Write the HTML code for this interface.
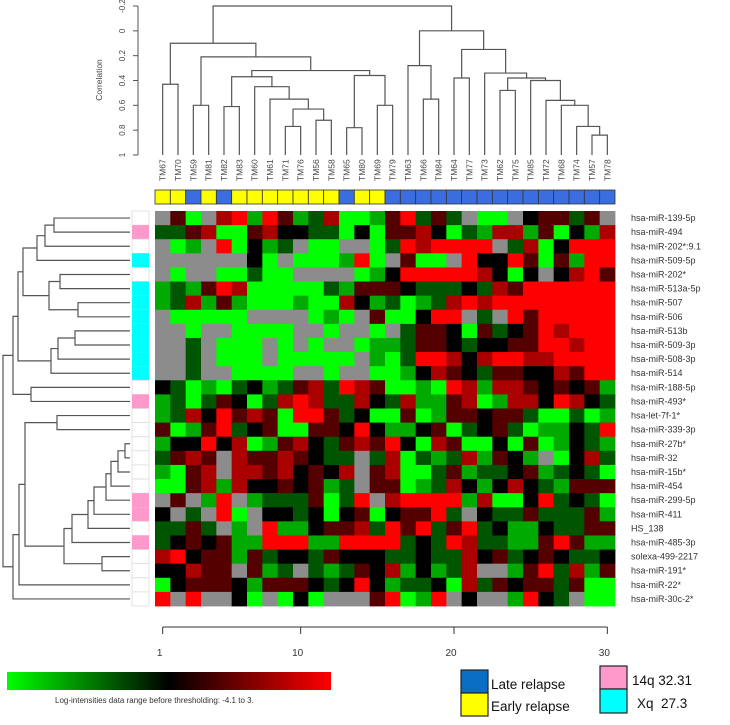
<!DOCTYPE html>
<html><head><meta charset="utf-8"><style>
html,body{margin:0;padding:0;background:#fff;}
svg{display:block;font-family:"Liberation Sans",sans-serif;}
</style></head><body>
<svg id="chart" width="730" height="725" viewBox="0 0 730 725"></svg>
<script>
const samples=["TM67","TM70","TM59","TM81","TM82","TM83","TM60","TM61","TM71","TM76","TM56","TM58","TM65","TM80","TM69","TM79","TM63","TM66","TM84","TM64","TM77","TM73","TM62","TM75","TM85","TM72","TM68","TM74","TM57","TM78"];
const relapse=["E","E","L","E","L","E","E","E","E","E","E","E","L","E","E","L","L","L","L","L","L","L","L","L","L","L","L","L","L","L"];
const genes=["hsa-miR-139-5p","hsa-miR-494","hsa-miR-202*:9.1","hsa-miR-509-5p","hsa-miR-202*","hsa-miR-513a-5p","hsa-miR-507","hsa-miR-506","hsa-miR-513b","hsa-miR-509-3p","hsa-miR-508-3p","hsa-miR-514","hsa-miR-188-5p","hsa-miR-493*","hsa-let-7f-1*","hsa-miR-339-3p","hsa-miR-27b*","hsa-miR-32","hsa-miR-15b*","hsa-miR-454","hsa-miR-299-5p","hsa-miR-411","HS_138","hsa-miR-485-3p","solexa-499-2217","hsa-miR-191*","hsa-miR-22*","hsa-miR-30c-2*"];
const chrom=["","14q","","Xq","","Xq","Xq","Xq","Xq","Xq","Xq","Xq","","14q","","","","","","","14q","14q","","14q","","","",""];
const N=null;
const values=[
[N,1,-3,N,2,3,-2,3,1,-2,-1,2,-3,-3,-2,1,3,-1,1,-1,N,-3,-3,N,0,1,1,-1,1,N],
[-1,-1,1,2,-3,-3,1,2,0,0,-1,-1,-3,0,-3,1,1,2,0,-3,-1,-2,2,2,-2,1,-3,0,-2,2],
[N,-3,-2,N,3,-3,0,-2,-1,N,-3,-3,N,N,-3,-1,3,2,3,3,3,3,N,-1,2,-3,0,3,3,3],
[N,N,N,N,N,N,0,-3,N,-3,-3,-3,-2,3,-3,N,1,-3,-3,N,3,0,0,3,1,-3,1,-2,3,3],
[N,-3,N,N,-3,-3,-1,-3,-3,N,N,N,N,-3,-2,0,3,3,3,3,3,2,0,-3,0,N,0,2,3,1],
[-2,-1,-2,1,3,2,-3,-3,-3,-3,-3,-1,-2,1,1,1,0,-1,-1,-1,0,-1,2,1,3,3,3,3,3,3],
[-2,-1,2,-2,1,-2,-3,-3,-3,-2,-3,-3,2,0,-2,-1,-3,-2,-1,2,3,2,3,3,3,3,3,3,3,3],
[N,-3,-3,-3,-3,-3,N,N,N,N,-3,-2,-3,N,1,-3,-3,0,3,3,N,-1,N,3,1,3,3,3,3,3],
[N,N,-3,N,N,-3,-3,-3,-3,N,N,-3,N,N,-3,N,-1,1,1,0,-3,1,-1,0,1,3,2,3,3,3],
[N,N,-1,N,-3,-3,-3,N,-3,N,-3,N,N,-3,-2,-2,-1,1,1,0,-1,0,0,1,1,3,3,2,3,3],
[N,N,-1,N,-3,-3,-3,N,-3,-3,-3,-3,-3,N,-2,-3,-1,3,3,2,0,2,3,3,2,2,3,3,3,3],
[N,N,-1,N,N,-3,-3,-3,-3,N,N,-3,N,N,-3,-3,-2,0,2,1,0,-1,1,1,0,0,2,1,3,3],
[0,-1,-3,-2,-3,-1,0,-2,-1,1,2,-1,3,2,1,-3,-3,-2,-3,3,2,-2,2,2,1,0,1,0,1,-2],
[-2,-1,-3,-1,1,0,-3,-1,2,3,2,-1,-1,2,0,-1,2,-2,-2,1,2,-3,-2,2,2,0,3,2,0,-1],
[-2,-1,2,0,3,1,2,1,-3,3,3,1,-1,0,-3,-3,1,-3,-2,1,1,0,1,1,-1,-3,-3,-1,-3,-2],
[1,-3,-2,1,3,-1,0,1,-3,-3,1,1,0,3,0,-2,-2,0,1,-3,-1,0,1,-1,-3,-2,-2,0,-1,3],
[-2,0,0,3,0,2,-3,-2,1,2,0,-1,1,2,1,3,0,-3,2,1,-3,-3,0,-3,1,-3,-2,0,-1,-2],
[-1,1,2,1,N,2,1,1,2,1,0,-1,-1,N,-1,2,-3,-1,-2,-1,2,-2,1,0,-2,N,-3,0,2,-1],
[-2,-3,1,2,N,2,2,1,2,0,1,0,2,N,1,2,-3,-3,-1,1,-2,-1,-1,0,1,-2,-1,0,-1,-3],
[-3,-3,1,2,-2,2,0,0,1,0,1,-2,-1,N,1,1,-3,-2,-1,2,0,-2,0,2,0,-1,-2,1,1,1],
[N,1,N,-2,3,N,-2,-1,-1,-1,1,-3,-1,3,N,2,3,3,3,3,-2,2,-3,-3,0,3,-1,0,-1,-3],
[0,N,-1,N,3,-3,N,0,0,-1,0,-3,0,1,-3,0,1,1,3,-1,N,0,-1,-1,1,-1,-1,-1,1,-2],
[-1,-1,1,-1,N,-2,N,3,-2,-2,0,1,1,2,-1,3,1,3,-1,1,3,-1,0,-2,-2,0,-1,-1,1,1],
[-1,0,1,0,1,-2,-2,3,3,3,-2,-2,3,3,3,3,-1,0,-1,3,2,-1,-1,-2,-2,1,3,1,-2,-2],
[2,3,0,1,1,-2,1,-1,0,0,-1,1,0,0,0,-1,-1,0,-1,-1,2,0,1,-1,0,1,0,-1,-1,0],
[0,0,2,1,1,N,1,-2,-1,N,-1,-2,-1,1,0,2,-2,0,-2,-1,2,N,N,-2,1,3,-1,2,-2,1],
[-3,0,1,1,1,0,-2,1,1,1,0,-1,0,3,0,-2,-1,-1,0,-3,2,-1,1,0,1,1,-1,1,-3,-3],
[3,N,3,N,N,0,-3,N,-3,0,-3,N,N,N,1,3,-3,-2,3,N,0,N,N,-2,3,0,-1,N,-3,-3]
];
const colMerges=[
[0,1,0.43],[2,3,0.6],[4,5,0.61],[8,9,0.77],[10,11,0.72],["n3","n4",0.63],[7,"n5",0.55],[6,"n6",0.45],["n2","n7",0.37],[12,13,0.78],[14,15,0.6],["n9","n10",0.36],["n8","n11",0.32],["n1","n12",0.21],["n0","n13",0.1],
[17,18,0.55],[16,"n15",0.28],[19,20,0.38],[22,23,0.48],[28,29,0.84],[27,"n19",0.77],[26,"n20",0.6],[25,"n21",0.56],[24,"n22",0.4],["n18","n23",0.38],[21,"n24",0.34],["n17","n25",0.15],["n16","n26",0.0],["n14","n27",-0.2]
];
const corrTicks=[-0.2,0,0.2,0.4,0.6,0.8,1];
const rowMerges=[
[0,1,76],["n0",2,85],["n1",3,93],[4,5,70],[6,7,52],["n3","n4",81],["n2","n5",107],[8,9,55],["n7",10,72],["n8",11,79],["n6","n9",112],[12,13,99],["n10","n11",117],
[14,15,73],[16,17,5],["n14",18,12],["n15",19,19],["n16",20,24],["n17",21,36],["n18",22,42],["n19",23,58],[24,25,28],["n20","n21",66],["n13","n22",105],["n23",26,111],["n24",27,117],["n12","n25",127]
];
const xTicks=[1,10,20,30];

const svg=document.getElementById('chart');
const NS="http://www.w3.org/2000/svg";
function mk(tag,attrs,parent){const e=document.createElementNS(NS,tag);for(const k in attrs)e.setAttribute(k,attrs[k]);(parent||svg).appendChild(e);return e;}
const X0=155,X1=615,Y0=211,Y1=606;
const nC=samples.length,nR=genes.length;
const cw=(X1-X0)/nC,rh=(Y1-Y0)/nR;
const colX=i=>X0+cw*(i+0.5);
const rowY=j=>Y0+rh*(j+0.5);
const corrY=c=>6+(c+0.2)/1.2*149;
const distX=d=>130-d;
function color(v){if(v===null)return"#8c8c8c";const a=Math.round(Math.min(3,Math.abs(v))/3*255);return v>0?`rgb(${a},0,0)`:`rgb(0,${a},0)`;}

const hm=mk('g',{});


values.forEach((row,j)=>row.forEach((v,i)=>{
  const r=mk('rect',{x:X0+cw*i,y:Y0+rh*j,width:cw+0.4,height:rh+0.4,fill:color(v)},hm);
  
  
}));

relapse.forEach((t,i)=>{
  const r=mk('rect',{x:X0+cw*i,y:190,width:cw,height:14,fill:t==="L"?"#3a6ee0":"#ffff00",stroke:"#333","stroke-width":0.8});
  
  
});
chrom.forEach((c,j)=>{
  const r=mk('rect',{x:132,y:Y0+rh*j,width:17,height:rh,fill:c==="14q"?"#ff99cc":c==="Xq"?"#00ffff":"#fff",stroke:c?"none":"#ddd","stroke-width":0.8});
  
  
});

const cd=mk('g',{stroke:"#555","stroke-width":1.2,fill:"none"});


const cpos=[];
function cget(k){if(typeof k==="number")return{x:colX(k),y:corrY(1)};return cpos[+k.slice(1)];}
colMerges.forEach(m=>{
  const a=cget(m[0]),b=cget(m[1]),y=corrY(m[2]);
  mk('path',{d:`M${a.x},${a.y}V${y}H${b.x}V${b.y}`},cd);
  cpos.push({x:(a.x+b.x)/2,y:y});
});
const ax=mk('g',{});


mk('line',{x1:138,x2:138,y1:corrY(-0.2),y2:corrY(1),stroke:"#555"},ax);
corrTicks.forEach(t=>{
  mk('line',{x1:133,x2:138,y1:corrY(t),y2:corrY(t),stroke:"#555"},ax);
  const tx=mk('text',{x:125,y:corrY(t),"font-size":8,fill:"#444","text-anchor":"middle",transform:`rotate(-90 125 ${corrY(t)})`},ax);
  tx.textContent=String(t);
});
const ct=mk('text',{x:102,y:80,"font-size":8.5,fill:"#444","text-anchor":"middle",transform:"rotate(-90 102 80)"});


ct.textContent="Correlation";
samples.forEach((s,i)=>{
  const t=mk('text',{x:colX(i)+3,y:181,"font-size":8.5,fill:"#444",transform:`rotate(-90 ${colX(i)+3} 181)`});
  
  
  t.textContent=s;
});

const rd=mk('g',{stroke:"#555","stroke-width":1.2,fill:"none"});


const rpos=[];
function rget(k){if(typeof k==="number")return{x:distX(0),y:rowY(k)};return rpos[+k.slice(1)];}
rowMerges.forEach(m=>{
  const a=rget(m[0]),b=rget(m[1]),x=distX(m[2]);
  mk('path',{d:`M${a.x},${a.y}H${x}V${b.y}H${b.x}`},rd);
  rpos.push({x:x,y:(a.y+b.y)/2});
});
genes.forEach((g,j)=>{
  const t=mk('text',{x:631,y:rowY(j)+3,"font-size":9,fill:"#333"});
  
  
  t.textContent=g;
});

const bx=mk('g',{});


mk('line',{x1:colX(0),x2:colX(nC-1),y1:627,y2:627,stroke:"#333"},bx);
xTicks.forEach(t=>{
  const x=colX(t-1);
  mk('line',{x1:x,x2:x,y1:627,y2:634,stroke:"#333"},bx);
  const tx=mk('text',{x:x-3,y:656,"font-size":10,fill:"#333","text-anchor":"middle"},bx);
  tx.textContent=String(t);
});
</script>
<svg width="730" height="725" style="position:absolute;left:0;top:0">
<defs><linearGradient id="gk" x1="0" x2="1"><stop offset="0" stop-color="#00ff00"/><stop offset="0.5" stop-color="#000"/><stop offset="1" stop-color="#ff0000"/></linearGradient></defs>
<rect x="7" y="672" width="324" height="18" fill="url(#gk)"/>
<text x="55" y="703" font-size="8" fill="#333" font-family="Liberation Sans, sans-serif">Log-intensities data range before thresholding: -4.1 to 3.</text>
<rect x="461" y="670" width="27" height="23" fill="#0a6fc4" stroke="#222" stroke-width="1.2"/>
<rect x="461" y="693" width="27" height="23" fill="#ffff00" stroke="#222" stroke-width="1.2"/>
<text x="491" y="689" font-size="13.5" fill="#111" font-family="Liberation Sans, sans-serif">Late relapse</text>
<text x="491" y="711" font-size="13.5" fill="#111" font-family="Liberation Sans, sans-serif">Early relapse</text>
<rect x="600" y="666" width="27" height="23" fill="#ff99cc" stroke="#222" stroke-width="1.2"/>
<rect x="600" y="689" width="27" height="24" fill="#00ffff" stroke="#222" stroke-width="1.2"/>
<text x="632" y="685" font-size="13.5" fill="#111" font-family="Liberation Sans, sans-serif">14q 32.31</text>
<text x="637" y="708" font-size="13.5" fill="#111" font-family="Liberation Sans, sans-serif">Xq&#160;&#160;27.3</text>
</svg>
</body></html>
